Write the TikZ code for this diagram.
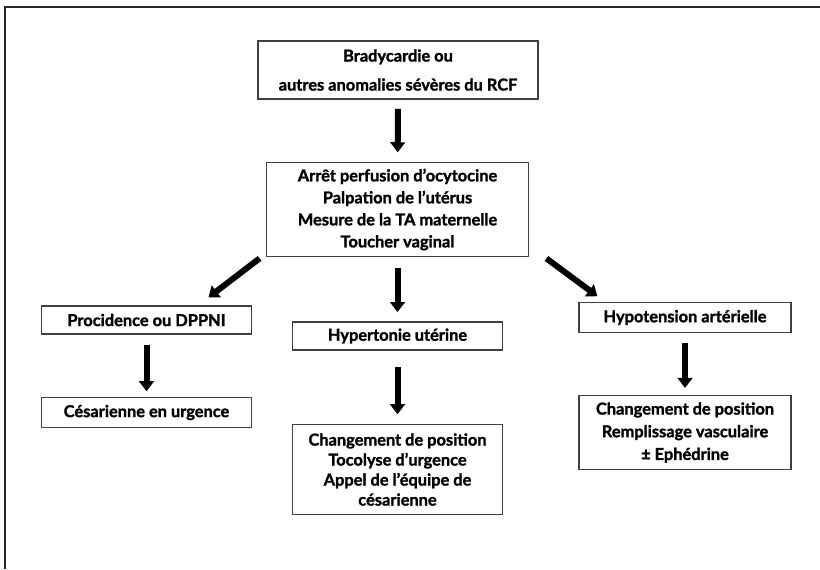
\documentclass[tikz,border=0pt]{standalone}
\usepackage{fontspec}
\setmainfont{Lato}[BoldFeatures={FakeBold=1.5}]
\usetikzlibrary{arrows.meta}

\begin{document}
\begin{tikzpicture}[x=0.75pt,y=-0.75pt,line width=0.9pt,
  box/.style={draw=black!75,rectangle,align=center,inner sep=0pt,
    font=\bfseries\fontsize{12.3}{16.5}\selectfont},
  bigarrow/.style={-{Triangle[width=11pt,length=7.5pt]},line width=4.5pt,
    shorten <=7pt,shorten >=7pt}]
  \useasboundingbox (0,0) rectangle (820,569);
  % frame, top and left only
  \draw[line width=1.5pt,black!85] (4.5,569) -- (4.5,6.5) -- (820,6.5);

  \node[box,minimum width=210pt,minimum height=43.5pt,
    font=\bfseries\fontsize{12.3}{21.75}\selectfont] (alert) at (398,70)
    {Bradycardie ou\\autres anomalies sévères du RCF};
  \node[box,minimum width=197pt,minimum height=71pt] (check) at (397.5,209.5)
    {Arrêt perfusion d’ocytocine\\Palpation de l’utérus\\Mesure de la TA maternelle\\Toucher vaginal};

  \node[box,minimum width=158pt,minimum height=21pt] (proc) at (146.5,320)
    {Procidence ou DPPNI};
  \node[box,minimum width=158pt,minimum height=22pt] (cesar) at (146.5,412.5)
    {Césarienne en urgence};

  \node[box,minimum width=158pt,minimum height=21pt] (hyper) at (397.5,336)
    {Hypertonie utérine};
  \node[box,minimum width=158pt,minimum height=68pt,
    font=\bfseries\fontsize{12.3}{15}\selectfont] (hyperact) at (397.5,469.5)
    {Changement de position\\Tocolyse d’urgence\\Appel de l’équipe de\\césarienne};

  \node[box,minimum width=159pt,minimum height=22pt] (hypo) at (685,317.5)
    {Hypotension artérielle};
  \node[box,minimum width=159pt,minimum height=56pt,
    font=\bfseries\fontsize{12.3}{17}\selectfont] (hypoact) at (685,432.5)
    {Changement de position\\Remplissage vasculaire\\± Ephédrine};

  \draw[bigarrow] (alert) -- (check);
  \draw[bigarrow,shorten <=8pt] (check) -- (hyper);
  \draw[bigarrow,shorten <=12.5pt] (hyper) -- (hyperact);
  \draw[bigarrow,shorten <=8pt,shorten >=4.5pt] (proc) -- (cesar);
  \draw[bigarrow,shorten <=7.5pt,shorten >=5pt] (hypo) -- (hypoact);
  \draw[bigarrow,shorten <=0pt,shorten >=0pt]
    ([shift={(-6,1)}]check.south west) -- ([shift={(-44,-8)}]proc.north east);
  \draw[bigarrow,shorten <=0pt,shorten >=0pt]
    ([shift={(17,1)}]check.south east) -- ([shift={(19,-6)}]hypo.north west);
\end{tikzpicture}
\end{document}
